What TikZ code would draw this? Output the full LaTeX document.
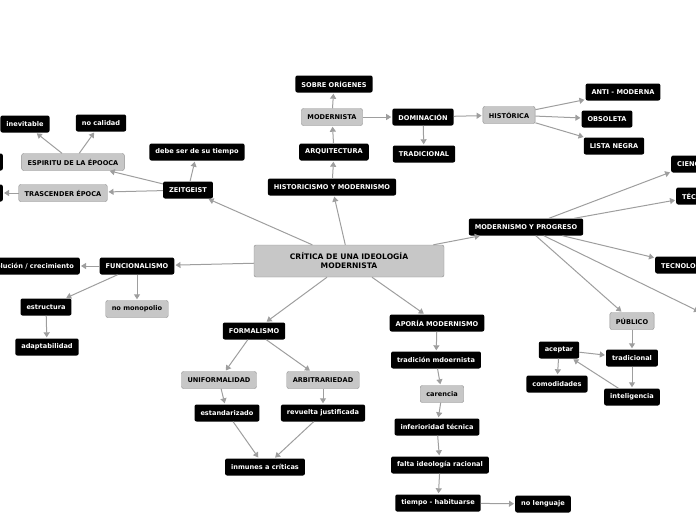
\documentclass[tikz,border=0pt]{standalone}
\usepackage{fontspec}
\setmainfont{DejaVu Sans}
\usetikzlibrary{arrows.meta}
\begin{document}
\begin{tikzpicture}[x=1pt,y=-1pt,
 bk/.style={fill=black,rounded corners=2pt,text=white,font=\fontsize{6.6}{7.5}\selectfont\bfseries,inner xsep=6pt,minimum height=17pt},
 gr/.style={fill=black!22,draw=black!45,rounded corners=2pt,text=black,font=\fontsize{6.6}{7.5}\selectfont\bfseries,inner xsep=6pt,minimum height=17pt},
 ar/.style={draw=black!38,line width=1pt,-{Triangle[length=5pt,width=6pt]},shorten >=1pt}]
\useasboundingbox (0,0) rectangle (696,520);
\clip (0,0) rectangle (696,520);
\node[gr,font=\fontsize{7.6}{9}\selectfont\bfseries,align=center,minimum width=190pt,minimum height=32pt] (c) at (349,261) {CRÍTICA DE UNA IDEOLOGÍA\\MODERNISTA};
% top
\node[bk] (sob) at (334,84) {SOBRE ORÍGENES};
\node[gr] (mod) at (332,117) {MODERNISTA};
\node[bk] (arq) at (334,152) {ARQUITECTURA};
\node[bk] (his) at (332,187) {HISTORICISMO Y MODERNISMO};
\node[bk] (dom) at (423,117) {DOMINACIÓN};
\node[bk] (tra) at (424,154) {TRADICIONAL};
\node[gr] (hst) at (509,115) {HISTÓRICA};
\node[bk] (ant) at (623,92) {ANTI - MODERNA};
\node[bk] (obs) at (607,119) {OBSOLETA};
\node[bk] (lis) at (614,146) {LISTA NEGRA};
% right
\node[bk] (pro) at (526,227) {MODERNISMO Y PROGRESO};
\node[bk,anchor=west] (cie) at (671,164) {CIENCIA};
\node[bk,anchor=west] (tec) at (676,196) {TÉCNICA};
\node[bk,anchor=west] (tgl) at (655,265) {TECNOLOGÍA};
\coordinate (off) at (700,312);
\node[gr] (pub) at (632,321) {PÚBLICO};
\node[bk] (trd) at (632,358) {tradicional};
\node[bk] (ace) at (559,350) {aceptar};
\node[bk] (com) at (557,384) {comodidades};
\node[bk] (int) at (632,397) {inteligencia};
% left top
\node[bk] (zei) at (188,190) {ZEITGEIST};
\node[bk] (deb) at (197,152) {debe ser de su tiempo};
\node[gr] (esp) at (73,162) {ESPIRITU DE LA ÉPOOCA};
\node[gr] (trs) at (63,193) {TRASCENDER ÉPOCA};
\node[bk] (ine) at (25,124) {inevitable};
\node[bk] (noc) at (101,123) {no calidad};
\node[bk,anchor=east] (lx1) at (3,162) {inevitable};
\node[bk,anchor=east] (lx2) at (3,193) {superación};
% left mid
\node[bk] (fun) at (137,266) {FUNCIONALISMO};
\node[bk,anchor=east] (evo) at (80,266) {evolución / crecimiento};
\node[bk] (est) at (46,307) {estructura};
\node[gr] (nmo) at (137,309) {no monopolio};
\node[bk] (ada) at (47,347) {adaptabilidad};
% bottom
\node[bk] (for) at (254,331) {FORMALISMO};
\node[gr] (uni) at (219,380) {UNIFORMALIDAD};
\node[gr] (arb) at (323,380) {ARBITRARIEDAD};
\node[bk] (esd) at (227,413) {estandarizado};
\node[bk] (rev) at (323,413) {revuelta justificada};
\node[bk] (inm) at (265,467) {inmunes a críticas};
\node[bk] (apo) at (437,323) {APORÍA MODERNISMO};
\node[bk] (tdm) at (436,360) {tradición mdoernista};
\node[gr] (car) at (442,394) {carencia};
\node[bk] (inf) at (437,427) {inferioridad técnica};
\node[bk] (fal) at (440,465) {falta ideología racional};
\node[bk] (tie) at (438,503) {tiempo - habituarse};
\node[bk] (nol) at (543,504) {no lenguaje};
% edges
\foreach \a/\b in {c/his,his/arq,arq/mod,mod/sob,mod/dom,dom/tra,dom/hst,hst/ant,hst/obs,hst/lis,
 c/pro,pro/cie,pro/tec,pro/tgl,pro/pub,pub/trd,trd/int,int/ace,ace/trd,ace/com,
 c/zei,zei/deb,zei/esp,zei/trs,esp/ine,esp/noc,trs/lx2,
 c/fun,fun/evo,fun/est,fun/nmo,est/ada,
 c/for,for/uni,for/arb,uni/esd,arb/rev,esd/inm,rev/inm,
 c/apo,apo/tdm,tdm/car,car/inf,inf/fal,fal/tie,tie/nol}
 \draw[ar] (\a) -- (\b);
\draw[ar] (pro) -- (off);
\end{tikzpicture}
\end{document}
